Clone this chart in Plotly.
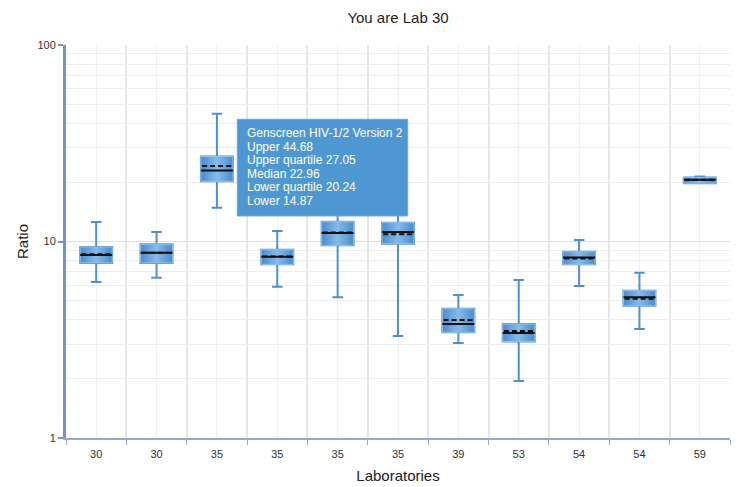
import plotly.graph_objects as go

labs = ["30", "30", "35", "35", "35", "35", "39", "53", "54", "54", "59"]
upper = [12.57, 11.17, 44.68, 11.3, 16.0, 15.0, 5.34, 6.37, 10.18, 6.94, 21.4]
q3 = [9.38, 9.68, 27.05, 9.08, 12.61, 12.47, 4.55, 3.80, 8.87, 5.62, 21.2]
median = [8.54, 8.77, 22.96, 8.37, 11.05, 11.17, 3.80, 3.42, 8.30, 5.20, 20.6]
mean = [8.60, 8.77, 24.2, 8.40, 11.1, 10.9, 3.99, 3.50, 8.20, 5.12, 20.6]
q1 = [7.78, 7.78, 20.24, 7.65, 9.57, 9.75, 3.45, 3.10, 7.65, 4.71, 19.8]
lower = [6.22, 6.54, 14.87, 5.89, 5.20, 3.30, 3.04, 1.95, 5.94, 3.59, 20.0]

tip_lines = ["Genscreen HIV-1/2 Version 2", "Upper 44.68", "Upper quartile 27.05",
             "Median 22.96", "Lower quartile 20.24", "Lower 14.87"]

xs = list(range(len(labs)))
bw = 0.53

fig = go.Figure()
fig.add_trace(go.Box(
    x=xs, q1=q1, median=median, q3=q3, lowerfence=lower, upperfence=upper,
    width=bw, whiskerwidth=0.33, fillcolor="rgba(0,0,0,0)",
    line=dict(color="#4f91cd", width=2), hoverinfo="skip", showlegend=False,
))

grad = [[0, "#4a8ccc"], [0.5, "#86bbe8"], [1, "#4a8ccc"]]
for i in xs:
    fig.add_trace(go.Scatter(
        x=[i - bw / 2, i + bw / 2, i + bw / 2, i - bw / 2, i - bw / 2],
        y=[q1[i], q1[i], q3[i], q3[i], q1[i]],
        mode="lines", fill="toself", line=dict(color="#92c2ea", width=1),
        fillgradient=dict(type="horizontal", colorscale=grad),
        hoverinfo="skip", showlegend=False,
    ))

mx, my, ax, ay = [], [], [], []
for i in xs:
    mx += [i - bw / 2, i + bw / 2, None]
    my += [median[i], median[i], None]
    ax += [i - bw / 2 + 0.02, i + bw / 2, None]
    ay += [mean[i], mean[i], None]
fig.add_trace(go.Scatter(x=mx, y=my, mode="lines", line=dict(color="#111111", width=2),
                         hoverinfo="skip", showlegend=False))
fig.add_trace(go.Scatter(x=ax, y=ay, mode="lines", line=dict(color="#111111", width=2, dash="5px,3px"),
                         hoverinfo="skip", showlegend=False))

fig.add_shape(type="rect", xref="paper", yref="paper", x0=0.258, x1=0.5146, y0=0.565, y1=0.811,
              fillcolor="#4f97d2", line=dict(color="#6aa8dc", width=1), layer="above")
for k, t in enumerate(tip_lines):
    fig.add_annotation(xref="paper", yref="paper", x=0.2696, y=0.7753 - k * 0.0343,
                       xanchor="left", yanchor="middle", text=t, showarrow=False,
                       font=dict(family="Liberation Sans, Arial", size=12, color="white"))

fig.update_layout(
    width=731, height=479,
    margin=dict(l=58, r=9, t=37, b=49, autoexpand=False),
    paper_bgcolor="white", plot_bgcolor="white",
    font=dict(family="Liberation Sans, Arial", size=11, color="#333333"),
    title=dict(text="You are Lab 30", x=0.5, xref="paper", y=0.979, yanchor="middle",
               font=dict(size=15, color="#222222"), automargin=False),
    xaxis=dict(
        range=[-0.5, 10.5], tickvals=xs, ticktext=labs, ticks="", showgrid=True,
        gridcolor="#f0f1f4", gridwidth=1, zeroline=False, automargin=False,
        showline=True, linecolor="#98a8cf", linewidth=1.5, ticklabelstandoff=5,
        minor=dict(tick0=0.5, dtick=1, ticks="outside", ticklen=5, tickcolor="#98a8cf",
                   showgrid=True, gridcolor="#e4e6ea", gridwidth=1.5),
        title=dict(text="Laboratories", font=dict(size=15, color="#222222"), standoff=12),
        tickfont=dict(size=11),
    ),
    yaxis=dict(
        type="log", range=[0, 2], tickvals=[1, 10, 100], ticktext=["1", "10", "100"],
        ticks="outside", ticklen=5, tickcolor="#7a90c8", tickwidth=2, automargin=False,
        showline=True, linecolor="#7a90c8", linewidth=3, zeroline=False,
        showgrid=True, gridcolor="#dfe1e6", gridwidth=1,
        minor=dict(dtick="D1", showgrid=True, gridcolor="#eceef2", gridwidth=1, ticks=""),
        title=dict(text="Ratio", font=dict(size=15, color="#222222"), standoff=6),
        tickfont=dict(size=11),
    ),
)

fig.write_html("out.html")
